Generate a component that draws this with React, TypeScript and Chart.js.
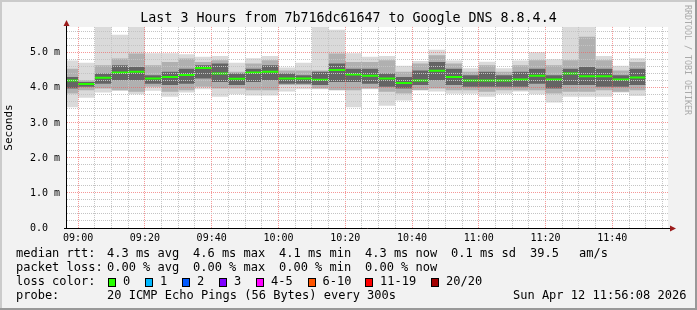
import React, { useEffect, useRef } from "react";
import { Chart, registerables } from "chart.js";

Chart.register(...registerables);

// ---------- data ----------
const STEP_TIMES = [
  "08:55", "09:00", "09:05", "09:10", "09:15", "09:20", "09:25", "09:30", "09:35",
  "09:40", "09:45", "09:50", "09:55", "10:00", "10:05", "10:10", "10:15", "10:20",
  "10:25", "10:30", "10:35", "10:40", "10:45", "10:50", "10:55", "11:00", "11:05",
  "11:10", "11:15", "11:20", "11:25", "11:30", "11:35", "11:40", "11:45",
];

// median round-trip time per 5-minute step (ms)
const MEDIAN_RTT = [
  4.21, 4.11, 4.29, 4.44, 4.46, 4.27, 4.31, 4.37, 4.57, 4.41, 4.26, 4.44,
  4.46, 4.27, 4.27, 4.23, 4.51, 4.38, 4.35, 4.27, 4.14, 4.21, 4.49, 4.31,
  4.21, 4.21, 4.21, 4.24, 4.35, 4.24, 4.41, 4.33, 4.33, 4.24, 4.30,
];

// smoke: fastest / slowest ping per step (ms)
const SMOKE_MIN = [
  3.45, 3.72, 3.87, 3.92, 3.82, 3.92, 3.75, 3.87, 3.96, 3.75, 3.82, 3.78,
  3.78, 3.90, 3.96, 3.96, 3.94, 3.45, 3.96, 3.49, 3.64, 3.94, 3.90, 3.83,
  3.83, 3.75, 3.83, 3.90, 3.82, 3.58, 3.75, 3.75, 3.75, 3.87, 3.77,
];
const SMOKE_MAX = [
  4.78, 4.72, 5.90, 5.52, 5.90, 4.99, 4.99, 4.96, 4.89, 4.91, 4.72, 4.85,
  4.91, 4.58, 4.72, 5.90, 5.66, 4.99, 4.89, 4.91, 4.63, 4.77, 5.09, 4.78,
  4.56, 4.75, 4.56, 4.78, 5.02, 4.82, 5.90, 5.90, 4.91, 4.63, 4.85,
];

// smoke: middle band of pings (ms)
const SMOKE_MID_LO = [
  3.84, 3.93, 3.98, 3.93, 3.89, 4.03, 3.89, 3.93, 4.03, 3.98, 3.98, 3.93,
  3.93, 4.08, 4.08, 3.98, 3.93, 3.93, 3.98, 3.89, 3.84, 3.93, 3.98, 3.93,
  3.93, 3.89, 3.93, 3.93, 3.93, 3.84, 3.89, 3.89, 3.93, 3.89, 3.93,
];
const SMOKE_MID_HI = [
  4.55, 4.22, 4.65, 4.84, 4.98, 4.65, 4.74, 4.84, 4.74, 4.79, 4.46, 4.70,
  4.79, 4.50, 4.50, 4.50, 4.98, 4.74, 4.74, 4.79, 4.46, 4.70, 4.93, 4.70,
  4.46, 4.65, 4.46, 4.65, 4.79, 4.65, 4.79, 5.46, 4.79, 4.50, 4.74,
];

// smoke: inner (dense) band of pings (ms)
const SMOKE_CORE_LO = [
  3.98, 4.03, 4.12, 4.22, 4.22, 4.12, 4.08, 4.12, 4.27, 4.17, 4.08, 4.17,
  4.22, 4.12, 4.12, 4.08, 4.17, 4.17, 4.12, 4.03, 3.98, 4.08, 4.22, 4.08,
  4.03, 4.03, 4.03, 4.03, 4.12, 3.98, 4.08, 4.08, 4.03, 4.03, 4.08,
];
const SMOKE_CORE_HI = [
  4.31, 4.17, 4.41, 4.65, 4.60, 4.36, 4.46, 4.55, 4.65, 4.70, 4.41, 4.55,
  4.65, 4.41, 4.36, 4.46, 4.70, 4.55, 4.55, 4.41, 4.31, 4.50, 4.74, 4.55,
  4.36, 4.46, 4.36, 4.46, 4.55, 4.36, 4.55, 4.60, 4.55, 4.36, 4.55,
];

const X_TICK_LABELS = ["09:00", "09:20", "09:40", "10:00", "10:20", "10:40", "11:00", "11:20", "11:40"];
const Y_TICK_LABELS = ["0.0  ", "1.0 m", "2.0 m", "3.0 m", "4.0 m", "5.0 m"];

const TITLE = "Last 3 Hours from 7b716dc61647 to Google DNS 8.8.4.4";
const Y_TITLE = "Seconds";
const WATERMARK = "RRDTOOL / TOBI OETIKER";

const RTT_LABEL = "median rtt:";
const RTT_STATS = ["4.3 ms avg", "4.6 ms max", "4.1 ms min", "4.3 ms now", "0.1 ms sd", "39.5", "am/s"];
const LOSS_LABEL = "packet loss:";
const LOSS_STATS = ["0.00 % avg", "0.00 % max", "0.00 % min", "0.00 % now"];
const LOSS_COLOR_LABEL = "loss color:";
const LOSS_BUCKETS = ["0", "1", "2", "3", "4-5", "6-10", "11-19", "20/20"];
const LOSS_COLORS = ["#26ff00", "#00b8ff", "#0059ff", "#7e00ff", "#ff00ff", "#ff5500", "#ff0000", "#a10000"];
const PROBE_LABEL = "probe:";
const PROBE_TEXT = "20 ICMP Echo Pings (56 Bytes) every 300s";
const DATE_TEXT = "Sun Apr 12 11:56:08 2026";

// ---------- settings ----------
const STEP_MIN = 5;
const X_MIN = 8 * 60 + 56.67;
const X_MAX = 11 * 60 + 56.67;
const Y_MAX = 5.74;
const MONO = '"DejaVu Sans Mono", monospace';

const toMin = (s: string) => {
  const [h, m] = s.split(":").map(Number);
  return h * 60 + m;
};

const stepSeries = (vals: number[]) => {
  const pts = STEP_TIMES.map((t, i) => ({ x: toMin(t), y: vals[i] }));
  const last = STEP_TIMES.length - 1;
  pts.push({ x: toMin(STEP_TIMES[last]) + STEP_MIN, y: vals[last] });
  return pts;
};

const medianSegments = (vals: number[]) => {
  const pts: { x: number; y: number | null }[] = [];
  STEP_TIMES.forEach((t, i) => {
    const s = toMin(t);
    pts.push({ x: s, y: vals[i] });
    pts.push({ x: s + STEP_MIN, y: vals[i] });
    pts.push({ x: s + STEP_MIN, y: null });
  });
  return pts;
};

const bandLine = (data: any, order: number, fill: any, bg?: string) => ({
  data,
  stepped: true,
  borderWidth: 0,
  borderColor: "transparent",
  backgroundColor: bg || "transparent",
  pointRadius: 0,
  fill,
  order,
});

const decorPlugin = {
  id: "rrdDecor",
  beforeDraw(chart: any) {
    const { ctx, width, height, chartArea: a } = chart;
    ctx.save();
    ctx.fillStyle = "#f2f2f2";
    ctx.fillRect(0, 0, width, height);
    ctx.fillStyle = "#ffffff";
    ctx.fillRect(a.left, a.top, a.right - a.left, a.bottom - a.top);
    ctx.fillStyle = "#cbcbcb";
    ctx.fillRect(0, 0, width, 2);
    ctx.fillRect(0, 0, 2, height);
    ctx.fillStyle = "#999999";
    ctx.fillRect(0, height - 2, width, 2);
    ctx.fillRect(width - 2, 0, 2, height);
    ctx.restore();
  },
  afterDraw(chart: any) {
    const { ctx, chartArea: a } = chart;
    ctx.save();
    // axes
    ctx.strokeStyle = "#000";
    ctx.lineWidth = 1;
    ctx.beginPath();
    ctx.moveTo(a.left - 0.5, a.bottom + 1);
    ctx.lineTo(a.left - 0.5, a.top - 5);
    ctx.moveTo(a.left - 3, a.bottom + 0.5);
    ctx.lineTo(a.right + 3, a.bottom + 0.5);
    ctx.stroke();
    ctx.fillStyle = "#9c1c1c";
    ctx.beginPath();
    ctx.moveTo(a.left - 0.5, a.top - 7);
    ctx.lineTo(a.left - 3.5, a.top - 1);
    ctx.lineTo(a.left + 2.5, a.top - 1);
    ctx.closePath();
    ctx.fill();
    ctx.beginPath();
    ctx.moveTo(a.right + 8, a.bottom + 0.5);
    ctx.lineTo(a.right + 2, a.bottom - 2.5);
    ctx.lineTo(a.right + 2, a.bottom + 3.5);
    ctx.closePath();
    ctx.fill();

    // watermark
    ctx.save();
    ctx.translate(687, 5);
    ctx.rotate(Math.PI / 2);
    ctx.font = `8.3px ${MONO}`;
    ctx.fillStyle = "#aaaaaa";
    ctx.textBaseline = "middle";
    ctx.textAlign = "left";
    ctx.fillText(WATERMARK, 0, 0);
    ctx.restore();

    // legend block
    ctx.font = `12px ${MONO}`;
    ctx.fillStyle = "#000";
    ctx.textBaseline = "middle";
    ctx.textAlign = "left";
    const colX = [107, 193, 279, 365, 451, 530, 579];
    ctx.fillText(RTT_LABEL, 16, 254);
    RTT_STATS.forEach((s, i) => ctx.fillText(s, colX[i], 254));
    ctx.fillText(LOSS_LABEL, 16, 268);
    LOSS_STATS.forEach((s, i) => ctx.fillText(s, colX[i], 268));
    ctx.fillText(LOSS_COLOR_LABEL, 16, 282);
    const lbX = [123, 160, 197, 234, 271, 322.5, 380, 446];
    LOSS_BUCKETS.forEach((b, i) => {
      const sx = Math.round(lbX[i] - 15);
      ctx.fillStyle = LOSS_COLORS[i];
      ctx.fillRect(sx, 278, 8, 9);
      ctx.strokeStyle = "#000";
      ctx.lineWidth = 1;
      ctx.strokeRect(sx + 0.5, 278.5, 7, 8);
      ctx.fillStyle = "#000";
      ctx.fillText(b, lbX[i], 282);
    });
    ctx.fillText(PROBE_LABEL, 16, 296);
    ctx.fillText(PROBE_TEXT, 107, 296);
    ctx.fillText(DATE_TEXT, 513, 296);
    ctx.restore();
  },
};

export default function App() {
  const ref = useRef<HTMLCanvasElement | null>(null);

  useEffect(() => {
    if (!ref.current) return;
    const isMajorX = (v: number) => Math.abs(v % 20) < 1e-6;
    const isMajorY = (v: number) => Math.abs(v - Math.round(v)) < 1e-6;
    const MAJOR = "rgba(240,96,96,0.65)";
    const MINOR = "#c4c4c4";

    const chart = new Chart(ref.current, {
      type: "line",
      data: {
        datasets: [
          bandLine(stepSeries(SMOKE_MIN), 30, false),
          bandLine(stepSeries(SMOKE_MAX), 30, "-1", "#dadada"),
          bandLine(stepSeries(SMOKE_MID_LO), 20, false),
          bandLine(stepSeries(SMOKE_MID_HI), 20, "-1", "#b0b0b0"),
          bandLine(stepSeries(SMOKE_CORE_LO), 10, false),
          bandLine(stepSeries(SMOKE_CORE_HI), 10, "-1", "#646464"),
          {
            data: medianSegments(MEDIAN_RTT),
            borderColor: "#26ff00",
            borderWidth: 2,
            pointRadius: 0,
            fill: false,
            spanGaps: false,
            order: 0,
          } as any,
        ],
      },
      options: {
        responsive: false,
        animation: false,
        devicePixelRatio: 1,
        events: [],
        layout: { padding: 0 },
        plugins: {
          legend: { display: false },
          tooltip: { enabled: false },
          title: {
            display: true,
            text: TITLE,
            color: "#000",
            font: { family: MONO, size: 13.3, weight: "normal" },
            padding: { top: 11, bottom: 0 },
          },
        },
        scales: {
          x: {
            type: "linear",
            min: X_MIN,
            max: X_MAX,
            afterBuildTicks: (axis: any) => {
              const t = [];
              for (let v = Math.ceil(X_MIN / STEP_MIN) * STEP_MIN; v <= X_MAX; v += STEP_MIN) t.push({ value: v });
              axis.ticks = t;
            },
            afterFit: (axis: any) => {
              axis.height = 82;
            },
            grid: {
              drawTicks: false,
              lineWidth: 1,
              z: 1,
              color: (c: any) => (isMajorX(c.tick?.value ?? 0) ? MAJOR : MINOR),
            },
            border: { display: false, dash: [1, 1] },
            ticks: {
              autoSkip: false,
              maxRotation: 0,
              minRotation: 0,
              padding: 4,
              color: "#000",
              font: { family: MONO, size: 10 },
              callback: (v: any) => X_TICK_LABELS.find((l) => toMin(l) === Number(v)) ?? "",
            },
          },
          y: {
            type: "linear",
            position: "left",
            min: 0,
            max: Y_MAX,
            afterBuildTicks: (axis: any) => {
              const t = [];
              for (let i = 0; i * 0.2 <= Y_MAX; i++) t.push({ value: Math.round(i * 2) / 10 });
              axis.ticks = t;
            },
            afterFit: (axis: any) => {
              axis.width = 67;
            },
            grid: {
              drawTicks: false,
              lineWidth: 1,
              z: 1,
              color: (c: any) => (isMajorY(c.tick?.value ?? 0) ? MAJOR : MINOR),
            },
            border: { display: false, dash: [1, 1] },
            title: {
              display: true,
              text: Y_TITLE,
              color: "#000",
              font: { family: MONO, size: 11 },
              padding: { top: 3, bottom: 0 },
            },
            ticks: {
              autoSkip: false,
              padding: 7,
              color: "#000",
              font: { family: MONO, size: 10 },
              callback: (v: any) => {
                const n = Number(v);
                return isMajorY(n) ? Y_TICK_LABELS[Math.round(n)] ?? "" : "";
              },
            },
          },
          yRightMargin: {
            type: "linear",
            position: "right",
            display: true,
            min: 0,
            max: Y_MAX,
            grid: { display: false, drawTicks: false },
            border: { display: false },
            ticks: { display: false },
            afterFit: (axis: any) => {
              axis.width = 29;
            },
          },
        },
      } as any,
      plugins: [decorPlugin],
    });
    return () => chart.destroy();
  }, []);

  return (
    <div style={{ position: "absolute", left: 0, top: 0, width: 697, height: 310 }}>
      <canvas ref={ref} width={697} height={310} style={{ display: "block", width: 697, height: 310 }} />
    </div>
  );
}
